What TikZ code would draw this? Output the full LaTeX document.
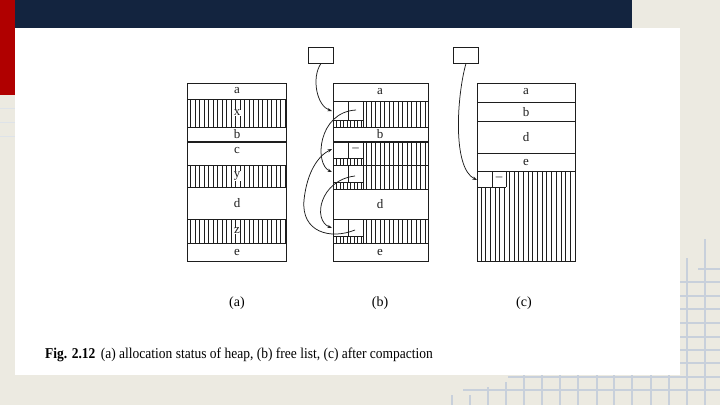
\documentclass[tikz,border=0pt]{standalone}
\usepackage{fontspec}
\setmainfont{Liberation Serif}
\usetikzlibrary{arrows.meta}
\definecolor{bgc}{HTML}{ECEAE1}
\definecolor{navyc}{HTML}{13243F}
\definecolor{redc}{HTML}{B00000}
\definecolor{gridc}{HTML}{C8D0DB}
\definecolor{inkc}{HTML}{1E1E1E}
\begin{document}
\begin{tikzpicture}[x=1pt,y=-1pt,
  gridline/.style={gridc,line width=1.3pt},
  boxline/.style={inkc,line width=0.8pt},
  sepline/.style={inkc,line width=0.75pt},
  thickline/.style={inkc,line width=1.4pt},
  hatch/.style={inkc,line width=0.7pt},
  letter/.style={inkc,font=\fontsize{13}{13}\selectfont,inner sep=0pt},
  hletter/.style={letter,fill=white,inner sep=0.4pt},
  headbox/.style={draw=inkc,line width=0.8pt,minimum width=25pt,minimum height=16pt,inner sep=0pt},
  arr/.style={inkc,line width=0.75pt,-{Stealth[length=4.5pt,width=3.2pt]}},
  plabel/.style={font=\fontsize{14}{14}\selectfont,inner sep=0pt},
]
\useasboundingbox (0,0) rectangle (720,405);
% background
\fill[bgc] (0,0) rectangle (720,405);
% grid lines right and bottom
\draw[gridline] (687,258) -- (687,405);
\draw[gridline] (705,239) -- (705,405);
\draw[gridline] (698,269) -- (720,269);
\foreach \yy in {282,296,309,323,337,350,363} \draw[gridline] (680,\yy) -- (720,\yy);
\draw[gridline] (508,377) -- (720,377);
\draw[gridline] (463,390) -- (720,390);
\foreach \xx in {524,542,560,578,597,614,632,651,669} \draw[gridline] (\xx,375) -- (\xx,405);
\draw[gridline] (506,382) -- (506,405);
\draw[gridline] (488,387) -- (488,405);
\draw[gridline] (470,395) -- (470,405);
\draw[gridline] (452,395) -- (452,405);
\foreach \yy in {108,122,136} \draw[gridc!60,line width=1pt] (0,\yy) -- (15,\yy);
% bars and white sheet
\fill[redc] (0,0) rectangle (15,95);
\fill[navyc] (15,0) rectangle (632,28);
\fill[white] (15,28) rectangle (680,375);

% ================= panel (a) =================
\foreach \ya/\yb in {99/127,165/187,219/243}{
  \foreach \xx in {190.5,195,...,285} \draw[hatch] (\xx,\ya) -- (\xx,\yb);
}
\draw[boxline] (187,83) rectangle (286,261);
\foreach \yy in {99,127,165,187,219,243} \draw[sepline] (187,\yy) -- (286,\yy);
\draw[thickline] (187,142) -- (286,142);
\node[letter] (la) at (237,91) {a};
\node[hletter] (lx) at (237,113) {x};
\node[letter] (lb) at (237,134.5) {b};
\node[letter] (lc) at (237,150) {c};
\node[hletter] (ly) at (237,176) {y};
\node[letter] (ld) at (237,203) {d};
\node[hletter] (lz) at (237,231) {z};
\node[letter] (le) at (237,252) {e};

% ================= panel (b) =================
\foreach \ya/\yb in {101/127,142/165,165/189,219/243}{
  \foreach \xx in {366.5,371,...,427} \draw[hatch] (\xx,\ya) -- (\xx,\yb);
  \foreach \xx in {336.5,340,...,362} \draw[hatch] (\xx,\yb-7) -- (\xx,\yb);
  \draw[sepline] (333,\yb-7) -- (363,\yb-7);
  \draw[sepline] (348,\ya) -- (348,\yb-7);
  \draw[sepline] (363,\ya) -- (363,\yb);
}
\draw[boxline] (333,83) rectangle (428,261);
\foreach \yy in {101,127,165,189,219,243} \draw[sepline] (333,\yy) -- (428,\yy);
\draw[thickline] (333,142) -- (428,142);
\node[letter] (ba) at (380,92) {a};
\node[letter] (bb) at (380,134.5) {b};
\node[letter] (bd) at (380,204) {d};
\node[letter] (be) at (380,252) {e};
\node[letter] (bnull) at (355.5,150) {--};
\node[headbox] (hb) at (321,55) {};
\coordinate (bxin) at (332,111);
\coordinate (bxout) at (356,110);
\coordinate (byin) at (332,172);
\coordinate (byout) at (355,176);
\coordinate (bzin) at (332,228);
\coordinate (bzout) at (355,230);
\coordinate (bcin) at (332,149);
\coordinate (bmid) at (304,200);
\draw[arr] (hb.south) .. controls (311,78) and (317,106) .. (bxin);
\draw[arr] (bxout) .. controls (318,112) and (314,164) .. (byin);
\draw[arr] (byout) .. controls (320,180) and (312,220) .. (bzin);
\draw[inkc,line width=0.75pt] (bzout) .. controls (330,240) and (301,232) .. (bmid);
\draw[arr] (bmid) .. controls (307,172) and (318,156) .. (bcin);

% ================= panel (c) =================
\foreach \xx in {481,485.7,...,574}{
  \pgfmathsetmacro{\ytop}{\xx<506 ? 187 : 171}
  \draw[hatch] (\xx,\ytop) -- (\xx,261);
}
\draw[boxline] (477,83) rectangle (575,261);
\foreach \yy in {102,121,153,171} \draw[sepline] (477,\yy) -- (575,\yy);
\draw[sepline] (477,187) -- (506,187);
\draw[sepline] (492,171) -- (492,187);
\draw[sepline] (506,171) -- (506,187);
\node[letter] (ca) at (526,92) {a};
\node[letter] (cb) at (526,112) {b};
\node[letter] (cd) at (526,137) {d};
\node[letter] (ce) at (526,162) {e};
\node[letter] (cnull) at (499,178.5) {--};
\node[headbox] (hc) at (466,55) {};
\coordinate (ccin) at (477,180);
\draw[arr] (hc.south) .. controls (457,95) and (452,168) .. (ccin);

% ================= labels =================
\node[plabel] (pa) at (237,303) {(a)};
\node[plabel] (pb) at (380,303) {(b)};
\node[plabel] (pc) at (524,303) {(c)};
\node[anchor=base west,inner sep=0pt,font=\fontsize{15}{15}\selectfont,xscale=0.9] (cap) at (45,358)
  {\textbf{Fig. 2.12}\hspace{6pt}(a) allocation status of heap, (b) free list, (c) after compaction};
\end{tikzpicture}
\end{document}
